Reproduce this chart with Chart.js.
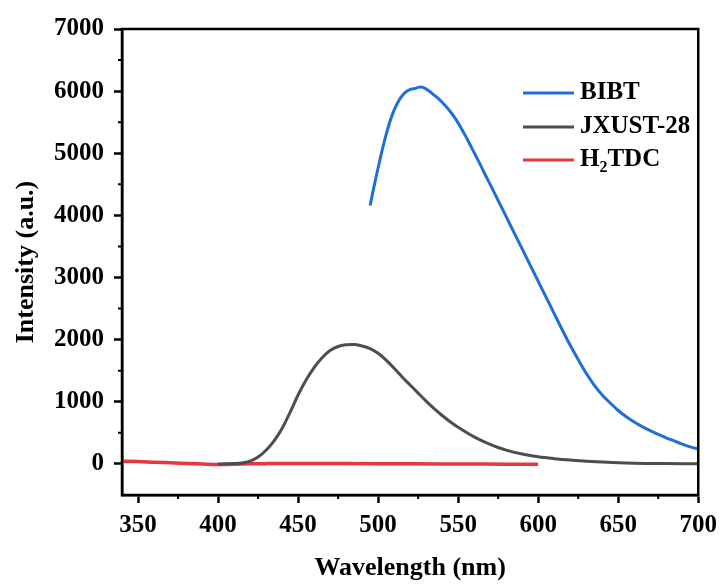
<!DOCTYPE html>
<html>
<head>
<meta charset="utf-8">
<script src="https://cdn.jsdelivr.net/npm/chart.js@4"></script>
<style>
  html, body { margin: 0; padding: 0; background: #fff; }
  #wrap { width: 725px; height: 585px; }
</style>
</head>
<body>
<div id="wrap"><canvas id="myChart" width="725" height="585"></canvas></div>
<script>
// wavelength (nm) / intensity (a.u.)
const bibtX = [495, 497, 499, 501, 503, 505, 507, 509, 511, 513, 515, 517, 519, 521, 523, 525, 527, 529, 531, 533, 535, 537, 540, 543, 546, 549, 552, 555, 558, 561, 564, 567, 570, 575, 580, 585, 590, 595, 600, 605, 610, 615, 620, 625, 630, 635, 640, 645, 650, 655, 660, 665, 670, 675, 680, 685, 690, 695, 700];
const bibtY = [4160, 4410, 4650, 4880, 5100, 5300, 5480, 5630, 5750, 5850, 5925, 5980, 6015, 6035, 6040, 6060, 6065, 6050, 6020, 5980, 5935, 5895, 5820, 5735, 5640, 5530, 5400, 5260, 5110, 4960, 4810, 4650, 4500, 4240, 3980, 3720, 3460, 3200, 2940, 2680, 2420, 2160, 1910, 1680, 1460, 1270, 1110, 980, 860, 760, 675, 600, 535, 475, 420, 370, 320, 275, 240];

const jxX = [400, 405, 410, 415, 420, 425, 430, 435, 440, 445, 450, 455, 460, 465, 470, 475, 480, 485, 490, 495, 500, 505, 510, 515, 520, 525, 530, 535, 540, 545, 550, 555, 560, 565, 570, 575, 580, 590, 600, 610, 620, 630, 640, 650, 660, 670, 680, 690, 700];
const jxY = [0, 2, 5, 14, 45, 110, 220, 370, 570, 830, 1110, 1350, 1550, 1710, 1825, 1890, 1920, 1922, 1898, 1855, 1780, 1670, 1540, 1400, 1270, 1140, 1010, 890, 780, 680, 590, 510, 435, 370, 315, 265, 222, 160, 115, 85, 62, 45, 30, 19, 12, 8, 5, 3, 2];

const h2tdcX = [340, 350, 360, 370, 380, 390, 400, 410, 420, 430, 440, 450, 460, 480, 500, 520, 540, 560, 580, 600];
const h2tdcY = [45, 40, 28, 18, 8, 0, -8, -5, 2, 5, 6, 6, 5, 5, 4, 2, 0, -2, -4, -5];

const seriesNames = ['BIBT', 'JXUST-28', 'H2TDC'];
const seriesColors = ['#1f6fd6', '#4d4d4d', '#e5383e'];

const xMajor = [350, 400, 450, 500, 550, 600, 650, 700];
const xMinor = [375, 425, 475, 525, 575, 625, 675];
const yMajor = [0, 1000, 2000, 3000, 4000, 5000, 6000, 7000];
const yMinor = [500, 1500, 2500, 3500, 4500, 5500, 6500];

const serif = '"Liberation Serif", "Times New Roman", serif';

function pts(xs, ys) { return xs.map((x, i) => ({ x: x, y: ys[i] })); }

// frame + minor ticks
const framePlugin = {
  id: 'frame',
  afterDraw(chart) {
    const { ctx, chartArea: a, scales } = chart;
    ctx.save();
    ctx.strokeStyle = '#000';
    ctx.lineWidth = 2.5;
    ctx.strokeRect(a.left, a.top, a.right - a.left, a.bottom - a.top);
    ctx.lineWidth = 2;
    ctx.beginPath();
    xMinor.forEach(v => {
      const px = scales.x.getPixelForValue(v);
      ctx.moveTo(px, a.bottom); ctx.lineTo(px, a.bottom + 4);
    });
    yMinor.forEach(v => {
      const py = scales.y.getPixelForValue(v);
      ctx.moveTo(a.left, py); ctx.lineTo(a.left - 4, py);
    });
    ctx.stroke();
    ctx.restore();
  }
};

// legend with subscript in H2TDC
const legendPlugin = {
  id: 'customLegend',
  afterDraw(chart) {
    const ctx = chart.ctx;
    const x0 = 523, x1 = 574, tx = 580;
    const rows = [93, 127, 160];
    ctx.save();
    rows.forEach((y, i) => {
      ctx.strokeStyle = seriesColors[i];
      ctx.lineWidth = 3;
      ctx.beginPath(); ctx.moveTo(x0, y); ctx.lineTo(x1, y); ctx.stroke();
      ctx.fillStyle = '#000';
      ctx.textBaseline = 'middle';
      ctx.font = 'bold 25px ' + serif;
      const name = seriesNames[i];
      if (name === 'H2TDC') {
        ctx.fillText('H', tx, y);
        let w = ctx.measureText('H').width;
        ctx.font = 'bold 16px ' + serif;
        ctx.fillText('2', tx + w, y + 8);
        w += ctx.measureText('2').width;
        ctx.font = 'bold 25px ' + serif;
        ctx.fillText('TDC', tx + w, y);
      } else {
        ctx.fillText(name, tx, y);
      }
    });
    ctx.restore();
  }
};

new Chart(document.getElementById('myChart'), {
  type: 'line',
  data: {
    datasets: [
      { label: seriesNames[0], data: pts(bibtX, bibtY), borderColor: seriesColors[0], borderWidth: 3, pointRadius: 0, cubicInterpolationMode: 'monotone' },
      { label: seriesNames[1], data: pts(jxX, jxY), borderColor: seriesColors[1], borderWidth: 3, pointRadius: 0, cubicInterpolationMode: 'monotone' },
      { label: seriesNames[2], data: pts(h2tdcX, h2tdcY), borderColor: seriesColors[2], borderWidth: 3.5, pointRadius: 0, cubicInterpolationMode: 'monotone' }
    ]
  },
  options: {
    responsive: false,
    animation: false,
    layout: { padding: { top: 29, right: 23, left: 0, bottom: 0 } },
    plugins: { legend: { display: false }, tooltip: { enabled: false } },
    scales: {
      x: {
        type: 'linear',
        min: 340, max: 700,
        afterBuildTicks: s => { s.ticks = xMajor.map(v => ({ value: v })); },
        afterFit: s => { s.height = 90; },
        grid: { drawOnChartArea: false, drawTicks: true, tickLength: 8, tickColor: '#000', tickWidth: 2.5 },
        border: { display: true, color: '#000', width: 2.5 },
        ticks: { color: '#000', padding: 8, maxRotation: 0, callback: v => String(v), font: { family: serif, size: 25, weight: 'bold' } },
        title: { display: true, text: 'Wavelength (nm)', color: '#000', padding: { top: 0, bottom: 1 }, font: { family: serif, size: 26, weight: 'bold' } }
      },
      y: {
        min: -500, max: 7000,
        afterBuildTicks: s => { s.ticks = yMajor.map(v => ({ value: v })); },
        afterFit: s => { s.width = 122; },
        grid: { drawOnChartArea: false, drawTicks: true, tickLength: 8, tickColor: '#000', tickWidth: 2.5 },
        border: { display: true, color: '#000', width: 2.5 },
        ticks: { color: '#000', padding: 10, callback: v => String(v), font: { family: serif, size: 25, weight: 'bold' } },
        title: { display: true, text: 'Intensity (a.u.)', color: '#000', padding: { top: 11, bottom: 0 }, font: { family: serif, size: 26, weight: 'bold' } }
      }
    }
  },
  plugins: [framePlugin, legendPlugin]
});
</script>
</body>
</html>
